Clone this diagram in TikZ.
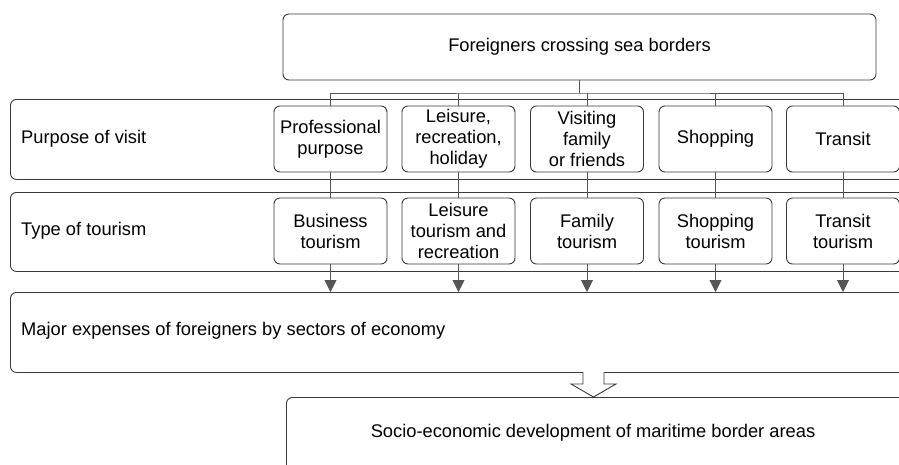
\documentclass[tikz,border=0pt]{standalone}
\usepackage{fontspec}
\setmainfont{Liberation Sans}
\usetikzlibrary{arrows.meta}
\definecolor{edge}{HTML}{3A3A3A}
\definecolor{conn}{HTML}{555555}
\begin{document}
\begin{tikzpicture}[x=1pt,y=-1pt,
  rbox/.style={draw=edge,line width=0.9pt,rounded corners=6pt,inner sep=0pt},
  txt/.style={font=\fontsize{18.3}{21}\selectfont},
  cbox/.style={rbox,txt,minimum width=113pt,minimum height=66pt,align=center},
  rowbox/.style={rbox,anchor=north west},
  lbl/.style={txt,anchor=west,inner sep=0pt},
  link/.style={draw=conn,line width=0.9pt},
  arr/.style={link,-{Triangle[width=12pt,length=12pt]},fill=conn}
]
\useasboundingbox (0,0) rectangle (899,464);
\clip (0,0) rectangle (899,464);
% top
\node[rbox,txt,minimum width=593pt,minimum height=66pt] (top) at (579.5,47) {Foreigners crossing sea borders};
% rows
\node[rowbox,minimum width=920pt,minimum height=80pt] (prow) at (10,99) {};
\node[rowbox,minimum width=920pt,minimum height=79pt] (trow) at (10,192) {};
\node[rowbox,minimum width=920pt,minimum height=80pt] (mrow) at (10,292) {};
\node[rbox,anchor=north west,minimum width=640pt,minimum height=90pt] (srow) at (286,397) {};
\node[lbl] (plab) at (21,139) {Purpose of visit};
\node[lbl] (tlab) at (21,231) {Type of tourism};
\node[lbl] (mlab) at (21,331) {Major expenses of foreigners by sectors of economy};
\node[txt,inner sep=0pt] (slab) at (593,433) {Socio-economic development of maritime border areas};
% purpose boxes
\node[cbox] (p1) at (330.5,139) {Professional\\purpose};
\node[cbox] (p2) at (458.5,139) {Leisure,\\recreation,\\holiday};
\node[cbox] (p3) at (587,139) {Visiting\\family\\or friends};
\node[cbox] (p4) at (715.5,139) {Shopping};
\node[cbox] (p5) at (843,139) {Transit};
% type boxes
\node[cbox] (t1) at (330.5,231) {Business\\tourism};
\node[cbox] (t2) at (458.5,231) {Leisure\\tourism and\\recreation};
\node[cbox] (t3) at (587,231) {Family\\tourism};
\node[cbox] (t4) at (715.5,231) {Shopping\\tourism};
\node[cbox] (t5) at (843,231) {Transit\\tourism};
% bus
\coordinate (bus) at (579.5,93);
\draw[link] (top.south) -- (bus);
\draw[link] (p1.north) |- (bus) -| (p5.north);
\foreach \i in {2,3,4} \draw[link] (p\i.north) -- (p\i.north |- bus);
\foreach \i in {1,...,5} {
  \draw[link] (p\i.south) -- (t\i.north);
  \draw[arr] (t\i.south) -- (t\i.south |- mrow.north);
}
% hollow arrow
\draw[edge,line width=0.9pt,fill=white] (583,372) -- (583,384) -- (571,384) -- (593.5,397) -- (616,384) -- (604,384) -- (604,372);
\end{tikzpicture}
\end{document}
